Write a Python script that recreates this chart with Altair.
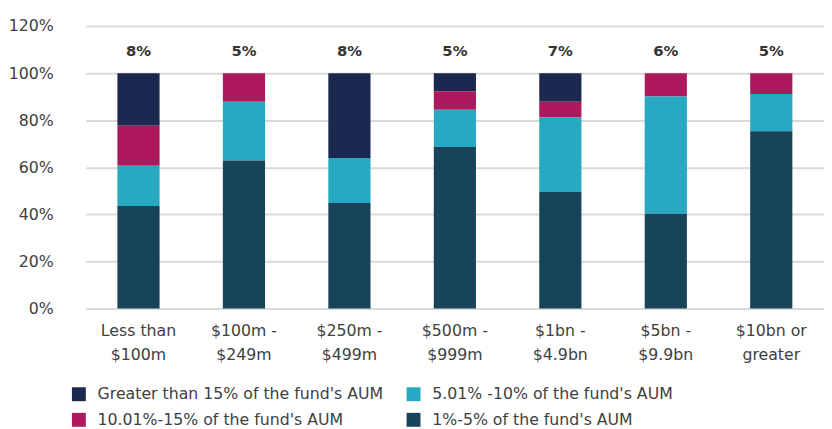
import altair as alt
import pandas as pd

categories = [
    "Less than\n$100m",
    "$100m -\n$249m",
    "$250m -\n$499m",
    "$500m -\n$999m",
    "$1bn -\n$4.9bn",
    "$5bn -\n$9.9bn",
    "$10bn or\ngreater",
]
# legend order (column-major fill in a 2-column legend)
series = [
    "Greater than 15% of the fund's AUM",
    "10.01%-15% of the fund's AUM",
    "5.01% -10% of the fund's AUM",
    "1%-5% of the fund's AUM",
]
colors = ["#1B2951", "#AD195C", "#27A9C2", "#18445A"]
stack_rank = [3, 2, 1, 0]

gt15 = [22.3, 0.0, 36.0, 7.7, 12.1, 0.0, 0.0]
p10_15 = [17.0, 12.1, 0.0, 7.8, 6.7, 9.9, 8.8]
p5_10 = [17.1, 25.0, 19.1, 15.9, 31.7, 49.8, 15.9]
p1_5 = [43.6, 62.9, 44.9, 68.6, 49.5, 40.3, 75.3]
top_labels = ["8%", "5%", "8%", "5%", "7%", "6%", "5%"]

values = {series[0]: gt15, series[1]: p10_15, series[2]: p5_10, series[3]: p1_5}

rows = []
for s, r in zip(series, stack_rank):
    for c, v in zip(categories, values[s]):
        if v > 0:
            rows.append({"cat": c, "series": s, "value": v, "rank": r})
df = pd.DataFrame(rows)
df_lab = pd.DataFrame({"cat": categories, "label": top_labels})

FONT = "DejaVu Sans"
TXT = "#404040"

x_enc = alt.X(
    "cat:N",
    sort=categories,
    scale=alt.Scale(paddingInner=0.6, paddingOuter=0.3),
    axis=alt.Axis(
        title=None,
        labelAngle=0,
        labelExpr="split(datum.value, '\\n')",
        labelFontSize=16,
        labelFont=FONT,
        labelColor=TXT,
        labelLineHeight=25,
        labelPadding=14,
        ticks=False,
        domain=False,
    ),
)

bars = alt.Chart(df).mark_bar().encode(
    x=x_enc,
    y=alt.Y(
        "value:Q",
        stack="zero",
        scale=alt.Scale(domain=[0, 120]),
        axis=alt.Axis(
            title=None,
            values=[0, 20, 40, 60, 80, 100, 120],
            labelExpr="datum.value + '%'",
            labelFontSize=16,
            labelFont=FONT,
            labelColor=TXT,
            labelPadding=33,
            ticks=False,
            tickSize=0,
            domain=False,
            grid=True,
            gridColor="#D9D9D9",
            gridWidth=2,
        ),
    ),
    color=alt.Color(
        "series:N",
        scale=alt.Scale(domain=series, range=colors),
        legend=alt.Legend(
            title=None,
            orient="none",
            legendX=-15,
            legendY=366,
            columns=2,
            columnPadding=22,
            rowPadding=10,
            symbolType="square",
            symbolSize=200,
            symbolStrokeWidth=0,
            labelOffset=11,
            labelFontSize=16,
            labelFont=FONT,
            labelColor=TXT,
            labelLimit=400,
        ),
    ),
    order=alt.Order("rank:Q", sort="ascending"),
)

labels = alt.Chart(df_lab).mark_text(
    fontSize=15, fontWeight="bold", font=FONT, color="#333333"
).encode(
    x=alt.X("cat:N", sort=categories),
    y=alt.datum(109.5),
    text="label:N",
)

chart = (
    alt.layer(bars, labels)
    .properties(
        width=750,
        height=287,
        padding={"left": 0, "right": 0, "top": 7, "bottom": 0},
    )
    .configure_view(stroke=None)
)

chart.save("out.html", embed_options={"renderer": "svg", "actions": False})
